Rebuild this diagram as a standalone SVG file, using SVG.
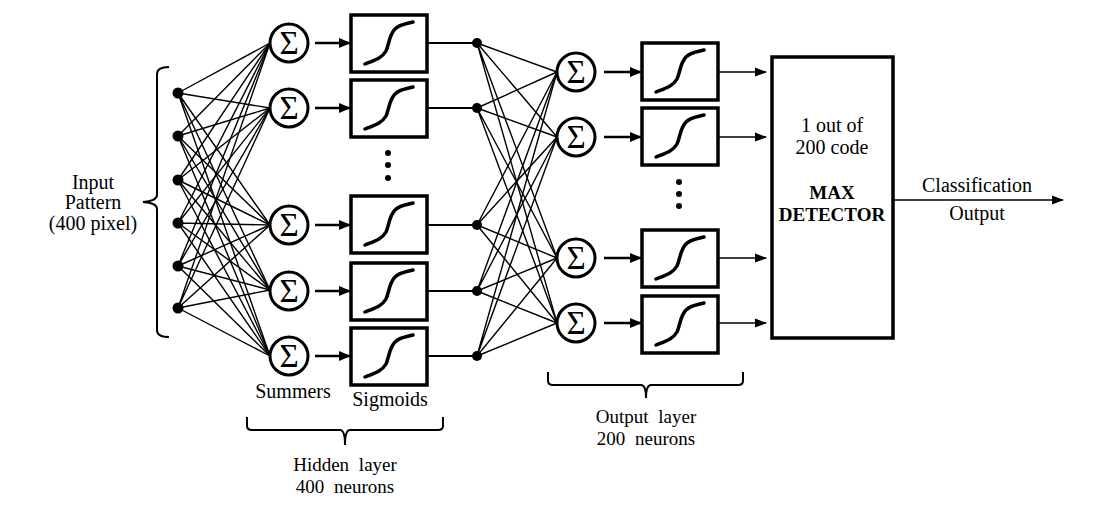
<svg xmlns="http://www.w3.org/2000/svg" xmlns:xlink="http://www.w3.org/1999/xlink" width="1118" height="511" viewBox="0 0 1118 511">
<style>
text{font-family:"Liberation Serif","Times New Roman",serif;font-size:20px;fill:#000;text-anchor:middle}
.b{font-weight:bold;font-size:19px}
.sig{font-size:33px}
.ws{word-spacing:5px;font-size:19px}
.w{stroke:#000;stroke-width:1.4;fill:none}
.thick{stroke:#000;stroke-width:2.6;fill:none}
.mid{stroke:#000;stroke-width:2;fill:none}
.thin{stroke:#000;stroke-width:1.4;fill:none}
.circ{fill:#fff;stroke:#000;stroke-width:3}
.box{fill:#fff;stroke:#000;stroke-width:3.5}
.curve{fill:none;stroke:#000;stroke-width:3.5;stroke-linecap:round}
.brace{fill:none;stroke:#000;stroke-width:2}
</style>
<defs>
<marker id="ah" markerUnits="userSpaceOnUse" markerWidth="12" markerHeight="10" refX="11" refY="5" orient="auto"><path d="M0,0 L12,5 L0,10 Z" fill="#000"/></marker>
<marker id="ah2" markerUnits="userSpaceOnUse" markerWidth="12" markerHeight="10" refX="11" refY="5" orient="auto"><path d="M0,0.5 L12,5 L0,9.5 Z" fill="#000"/></marker>
<g id="sigbox"><rect class="box" x="0" y="0" width="76" height="57"/><path class="curve" d="M14,49 C24,45 31,43 35,36 C38,30 38,20 44,14 C49,9 55,9 62,7"/></g>
<g id="sum"><circle class="circ" cx="0" cy="0" r="19"/><text class="sig" x="0" y="11">Σ</text></g>
</defs>

<g id="connectors">
<g class="w">
<path d="M178,93L270,43M178,93L270,108M178,93L270,225M178,93L270,290M178,93L270,356"/>
<path d="M178,136L270,43M178,136L270,108M178,136L270,225M178,136L270,290M178,136L270,356"/>
<path d="M178,180L270,43M178,180L270,108M178,180L270,225M178,180L270,290M178,180L270,356"/>
<path d="M178,223L270,43M178,223L270,108M178,223L270,225M178,223L270,290M178,223L270,356"/>
<path d="M178,266L270,43M178,266L270,108M178,266L270,225M178,266L270,290M178,266L270,356"/>
<path d="M178,308L270,43M178,308L270,108M178,308L270,225M178,308L270,290M178,308L270,356"/>
</g>
<g class="thick">
<line x1="315" y1="43" x2="350" y2="43" marker-end="url(#ah)"/>
<line x1="315" y1="108" x2="350" y2="108" marker-end="url(#ah)"/>
<line x1="315" y1="225" x2="350" y2="225" marker-end="url(#ah)"/>
<line x1="315" y1="291" x2="350" y2="291" marker-end="url(#ah)"/>
<line x1="315" y1="356" x2="350" y2="356" marker-end="url(#ah)"/>
</g>
<g class="mid">
<line x1="427" y1="43" x2="477" y2="43"/>
<line x1="427" y1="108" x2="477" y2="108"/>
<line x1="427" y1="225" x2="477" y2="225"/>
<line x1="427" y1="291" x2="477" y2="291"/>
<line x1="427" y1="356" x2="477" y2="356"/>
</g>
<g class="w">
<path d="M477,43L557,72M477,43L557,137M477,43L557,258M477,43L557,323"/>
<path d="M477,108L557,72M477,108L557,137M477,108L557,258M477,108L557,323"/>
<path d="M477,225L557,72M477,225L557,137M477,225L557,258M477,225L557,323"/>
<path d="M477,291L557,72M477,291L557,137M477,291L557,258M477,291L557,323"/>
<path d="M477,356L557,72M477,356L557,137M477,356L557,258M477,356L557,323"/>
</g>
<g class="thick">
<line x1="604" y1="72" x2="641" y2="72" marker-end="url(#ah)"/>
<line x1="604" y1="137" x2="641" y2="137" marker-end="url(#ah)"/>
<line x1="604" y1="258" x2="641" y2="258" marker-end="url(#ah)"/>
<line x1="604" y1="323" x2="641" y2="323" marker-end="url(#ah)"/>
</g>
<g class="thin">
<line x1="718" y1="72" x2="766" y2="72" marker-end="url(#ah2)"/>
<line x1="718" y1="137" x2="766" y2="137" marker-end="url(#ah2)"/>
<line x1="718" y1="258" x2="766" y2="258" marker-end="url(#ah2)"/>
<line x1="718" y1="323" x2="766" y2="323" marker-end="url(#ah2)"/>
</g>
<line class="thin" x1="893" y1="200" x2="1063" y2="200" marker-end="url(#ah2)"/>
</g>

<g id="input-layer">
<path class="brace" d="M169,67 Q157,67 157,74 L157,195 Q157,201 143,202 Q157,203 157,209 L157,330 Q157,337 169,337"/>
<circle cx="178" cy="93" r="5.5"/>
<circle cx="178" cy="136" r="5.5"/>
<circle cx="178" cy="180" r="5.5"/>
<circle cx="178" cy="223" r="5.5"/>
<circle cx="178" cy="266" r="5.5"/>
<circle cx="178" cy="308" r="5.5"/>
<text x="93" y="189">Input</text>
<text x="93" y="209">Pattern</text>
<text x="93" y="230">(400 pixel)</text>
</g>

<g id="hidden-summers">
<use xlink:href="#sum" x="289" y="43"/>
<use xlink:href="#sum" x="289" y="108"/>
<use xlink:href="#sum" x="289" y="225"/>
<use xlink:href="#sum" x="289" y="291"/>
<use xlink:href="#sum" x="289" y="356"/>
<text x="293" y="398">Summers</text>
</g>

<g id="hidden-sigmoids">
<use xlink:href="#sigbox" x="351" y="15"/>
<use xlink:href="#sigbox" x="351" y="80"/>
<use xlink:href="#sigbox" x="351" y="196"/>
<use xlink:href="#sigbox" x="351" y="263"/>
<use xlink:href="#sigbox" x="351" y="328"/>
<circle cx="388" cy="153" r="3"/>
<circle cx="388" cy="165" r="3"/>
<circle cx="388" cy="178" r="3"/>
<text x="390" y="406">Sigmoids</text>
</g>

<g id="hidden-outputs">
<circle cx="477" cy="43" r="5"/>
<circle cx="477" cy="108" r="5"/>
<circle cx="477" cy="225" r="5"/>
<circle cx="477" cy="291" r="5"/>
<circle cx="477" cy="356" r="5"/>
</g>

<g id="hidden-label">
<path class="brace" d="M247,417 L247,426 Q247,430 252,430 L340,430 Q345,430 345,445 Q345,430 350,430 L438,430 Q443,430 443,426 L443,417"/>
<text class="ws" x="345" y="471">Hidden layer</text>
<text class="ws" x="345" y="493">400 neurons</text>
</g>

<g id="output-summers">
<use xlink:href="#sum" x="576" y="72"/>
<use xlink:href="#sum" x="576" y="137"/>
<use xlink:href="#sum" x="576" y="258"/>
<use xlink:href="#sum" x="576" y="323"/>
</g>

<g id="output-sigmoids">
<use xlink:href="#sigbox" x="642" y="43"/>
<use xlink:href="#sigbox" x="642" y="108"/>
<use xlink:href="#sigbox" x="642" y="230"/>
<use xlink:href="#sigbox" x="642" y="296"/>
<circle cx="679" cy="182" r="3"/>
<circle cx="679" cy="194" r="3"/>
<circle cx="679" cy="206" r="3"/>
</g>

<g id="output-label">
<path class="brace" d="M548,372 L548,381 Q548,385 553,385 L641,385 Q646,385 646,398 Q646,385 651,385 L738,385 Q743,385 743,381 L743,372"/>
<text class="ws" x="646" y="423">Output layer</text>
<text class="ws" x="646" y="445">200 neurons</text>
</g>

<g id="max-detector">
<rect x="772" y="57" width="121" height="281" fill="#fff" stroke="#000" stroke-width="3.5"/>
<text x="832" y="132">1 out of</text>
<text x="832" y="154">200 code</text>
<text class="b" x="832" y="199">MAX</text>
<text class="b" x="832" y="221">DETECTOR</text>
</g>

<g id="classification-label">
<text x="977" y="192">Classification</text>
<text x="977" y="220">Output</text>
</g>
</svg>
